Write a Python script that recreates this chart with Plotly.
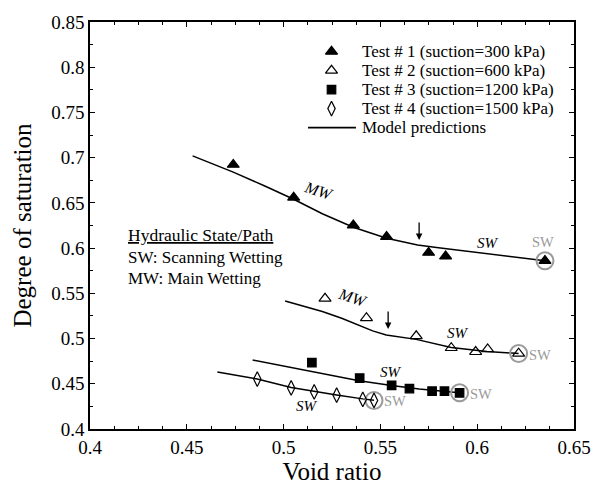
import plotly.graph_objects as go

# ---- data ----
t1_x = [0.474, 0.5052, 0.536, 0.5532, 0.5749, 0.5837, 0.635]
t1_y = [0.6923, 0.656, 0.6252, 0.6125, 0.595, 0.591, 0.586]
t2_x = [0.5214, 0.5428, 0.5685, 0.5866, 0.5992, 0.6054, 0.6214]
t2_y = [0.5442, 0.5228, 0.5028, 0.4897, 0.4853, 0.4883, 0.4835]
t3_x = [0.5146, 0.5393, 0.5558, 0.565, 0.5767, 0.5831, 0.5909]
t3_y = [0.4733, 0.4563, 0.4483, 0.4447, 0.4418, 0.4418, 0.4400]
t4_x = [0.4864, 0.5039, 0.5158, 0.5274, 0.5409, 0.5467]
t4_y = [0.4552, 0.4454, 0.4410, 0.4374, 0.4327, 0.4316]

m1_x = [0.453, 0.474, 0.490, 0.5052, 0.520, 0.536, 0.5532, 0.5692, 0.580, 0.595, 0.61, 0.622, 0.635]
m1_y = [0.702, 0.684, 0.669, 0.654, 0.638, 0.623, 0.611, 0.6034, 0.6005, 0.5965, 0.5925, 0.589, 0.586]
m2_x = [0.5008, 0.510, 0.52, 0.530, 0.539, 0.546, 0.553, 0.5685, 0.5866, 0.605, 0.6214]
m2_y = [0.5416, 0.536, 0.530, 0.5225, 0.5145, 0.5085, 0.5040, 0.4991, 0.4900, 0.4858, 0.4835]
m3_x = [0.484, 0.500, 0.5146, 0.539, 0.5558, 0.570, 0.5909]
m3_y = [0.4763, 0.4695, 0.4640, 0.4534, 0.4480, 0.4442, 0.4400]
m4_x = [0.4658, 0.4864, 0.5039, 0.5158, 0.5274, 0.5409, 0.5467]
m4_y = [0.4631, 0.4552, 0.4458, 0.4414, 0.4376, 0.4333, 0.4318]

end_x = [0.635, 0.6214, 0.5909, 0.5467]
end_y = [0.586, 0.4835, 0.4400, 0.4316]

arrow_x = [0.570, 0.554]
arrow_y = [0.6089, 0.5105]

legend_labels = ["Test # 1 (suction=300 kPa)", "Test # 2 (suction=600 kPa)",
                 "Test # 3 (suction=1200 kPa)", "Test # 4 (suction=1500 kPa)",
                 "Model predictions"]

FONT = "Liberation Serif, Times New Roman, Times, serif"

W, H = 603, 492
# plot-area geometry in page pixels (for legend layout)
PL, PR, PT, PB = 90, 585, 22, 435
def px2paper_x(px):
    return (px - PL) / (PR - PL)
def px2paper_y(py):
    return (PB - py) / (PB - PT)

fig = go.Figure()

lines = [(m1_x, m1_y), (m2_x, m2_y), (m3_x, m3_y), (m4_x, m4_y)]
for lx, ly in lines:
    fig.add_trace(go.Scatter(x=lx, y=ly, mode="lines", line=dict(color="black", width=1.5),
                             name="Model predictions", showlegend=False, hoverinfo="skip"))

fig.add_trace(go.Scatter(x=end_x, y=end_y, mode="markers", showlegend=False,
                         marker=dict(symbol="circle-open", size=17, color="#9a9a9a",
                                     line=dict(width=2, color="#9a9a9a"))))

styles = [("triangle-up", 10.5), ("triangle-up-open", 10.5), ("square", 8.5), ("diamond-tall-open", 10.5)]
tests = [(t1_x, t1_y), (t2_x, t2_y), (t3_x, t3_y), (t4_x, t4_y)]
for (tx, ty), (sym, sz), nm in zip(tests, styles, legend_labels):
    fig.add_trace(go.Scatter(x=tx, y=ty, mode="markers", name=nm, showlegend=False,
                             marker=dict(symbol=sym, size=sz, color="black",
                                         line=dict(width=1.2, color="black"))))

# ---- manual legend (key glyphs on an overlay 0..1 axis, text as annotations) ----
ROW0, ROWSTEP = 52, 19.3
KEY_X, TEXT_X = 337, 366
row_py = [ROW0 + i * ROWSTEP for i in range(len(legend_labels))]
for i, (sym, sz) in enumerate(styles):
    fig.add_trace(go.Scatter(x=[px2paper_x(KEY_X)], y=[px2paper_y(row_py[i])], xaxis="x2", yaxis="y2",
                             mode="markers", showlegend=False, hoverinfo="skip",
                             marker=dict(symbol=sym, size=sz, color="black",
                                         line=dict(width=1.2, color="black"))))

ann = []
for i, lab in enumerate(legend_labels):
    ann.append(dict(x=px2paper_x(TEXT_X), y=px2paper_y(row_py[i]), xref="paper", yref="paper",
                    text=lab, showarrow=False, xanchor="left", yanchor="middle",
                    font=dict(family=FONT, size=17, color="black")))
shapes = [dict(type="line", xref="paper", yref="paper",
               x0=px2paper_x(313), x1=px2paper_x(362), y0=px2paper_y(row_py[4]), y1=px2paper_y(row_py[4]),
               line=dict(color="black", width=1.6))]

def txt(x, y, t, size=14, color="black", angle=0, xanchor="center"):
    ann.append(dict(x=x, y=y, text=t, showarrow=False, textangle=angle, xanchor=xanchor,
                    font=dict(family=FONT, size=size, color=color)))

txt(0.5178, 0.6633, "<i>MW</i>", size=16, angle=18)
txt(0.6054, 0.6055, "<i>SW</i>", size=15)
txt(0.634, 0.607, "SW", size=14.5, color="#9a9a9a")
txt(0.5355, 0.5452, "<i>MW</i>", size=16, angle=18)
txt(0.5902, 0.5064, "<i>SW</i>", size=15)
txt(0.6323, 0.4817, "SW", size=14.5, color="#9a9a9a")
txt(0.5554, 0.4635, "<i>SW</i>", size=15)
txt(0.602, 0.4389, "SW", size=14.5, color="#9a9a9a")
txt(0.5121, 0.4252, "<i>SW</i>", size=15)
txt(0.5574, 0.4308, "SW", size=14.5, color="#9a9a9a")
txt(0.4185, 0.6145, "<u>Hydraulic State/Path</u>", size=17.5, xanchor="left")
txt(0.4185, 0.5895, "SW: Scanning Wetting", size=17, xanchor="left")
txt(0.4185, 0.5665, "MW: Main Wetting", size=17, xanchor="left")

for ax_, ay_ in zip(arrow_x, arrow_y):
    ann.append(dict(x=ax_, y=ay_, ax=0, ay=-19, showarrow=True, arrowhead=2, arrowsize=1,
                    arrowwidth=1.3, arrowcolor="black", text=""))

axis_common = dict(showline=True, linecolor="black", linewidth=1.5, mirror="ticks",
                   ticks="inside", ticklen=5, tickwidth=1, tickcolor="black",
                   showgrid=False, zeroline=False,
                   tickfont=dict(family=FONT, size=19, color="black"))

fig.update_layout(
    width=W, height=H,
    margin=dict(l=PL, r=W - PR, t=PT, b=H - PB),
    paper_bgcolor="white", plot_bgcolor="white",
    annotations=ann, shapes=shapes,
    xaxis=dict(range=[0.4, 0.65], dtick=0.05, tick0=0.4,
               minor=dict(dtick=0.0125, ticks="inside", ticklen=3, tickcolor="black"),
               title=dict(text="Void ratio", font=dict(family=FONT, size=25, color="black"), standoff=5),
               **axis_common),
    yaxis=dict(range=[0.4, 0.85], dtick=0.05, tick0=0.4,
               minor=dict(dtick=0.025, ticks="inside", ticklen=3, tickcolor="black"),
               title=dict(text="Degree of saturation", font=dict(family=FONT, size=25, color="black"), standoff=12),
               **axis_common),
    xaxis2=dict(overlaying="x", range=[0, 1], visible=False),
    yaxis2=dict(overlaying="y", range=[0, 1], visible=False),
    showlegend=False,
)

# remove the browser's default body margin so the figure sits at the page origin
fig.write_html("out.html", config={"displayModeBar": False},
               post_script="document.body.style.margin='0px';")
